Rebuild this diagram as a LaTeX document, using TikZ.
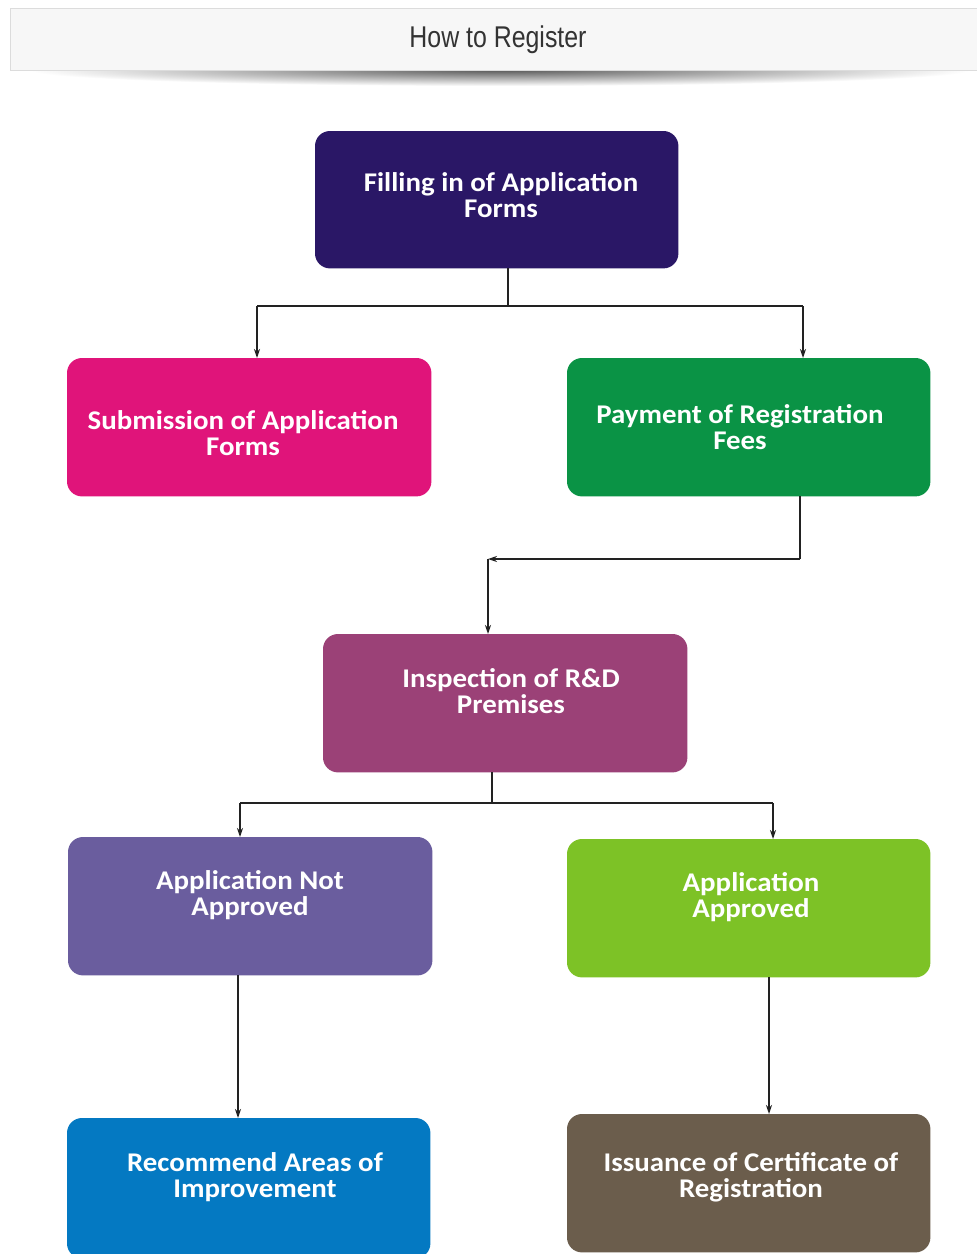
\documentclass[tikz,border=0pt]{standalone}
\usepackage{fontspec}
\setmainfont{Carlito}
\newfontfamily\hdrfont{Liberation Sans}
\usetikzlibrary{arrows.meta}
\definecolor{cA}{HTML}{2A1766}
\definecolor{cB}{HTML}{E0147A}
\definecolor{cC}{HTML}{0A9345}
\definecolor{cD}{HTML}{9B4177}
\definecolor{cE}{HTML}{6A5D9E}
\definecolor{cF}{HTML}{7DC226}
\definecolor{cG}{HTML}{0479C2}
\definecolor{cH}{HTML}{6B5D4C}
\definecolor{hdrfill}{HTML}{F7F7F7}
\definecolor{hdrline}{HTML}{DCDCDC}
\definecolor{linecol}{HTML}{222222}
\tikzset{
  box/.style={rounded corners=15pt, draw=none},
  boxnode/.style={anchor=north west, inner sep=0pt, minimum height=138pt},
  boxtext/.style={text=white, font=\fontsize{27}{26}\selectfont\bfseries, align=center, inner sep=0pt, xscale=1.07},
  conn/.style={draw=linecol, line width=1.6pt},
  arr/.style={conn, -{Stealth[length=9pt,width=6pt]}},
}
\begin{document}
\begin{tikzpicture}[x=1pt,y=-1pt]
\useasboundingbox (0,0) rectangle (977,1254);
\fill[white] (0,0) rectangle (977,1254);
% header shadow
\begin{scope}
\clip (0,70) rectangle (977,110);
\shade[inner color=black!65, outer color=white] (500,70) ellipse (470pt and 16pt);
\end{scope}
\node[draw=hdrline, fill=hdrfill, minimum width=975pt, minimum height=62pt, anchor=north west, inner sep=0pt, line width=1pt] (hdr) at (10,8) {};
\node[font=\hdrfont\fontsize{30}{30}\selectfont, text=black!80, xscale=0.83] (hdrtext) at (498,40) {How to Register};

% boxes
\node[boxnode, minimum width=363pt, minimum height=137pt] (n1) at (315,131) {};
\node[boxnode, minimum width=364pt] (n2) at (67,358) {};
\node[boxnode, minimum width=363pt] (n3) at (567,358) {};
\node[boxnode, minimum width=364pt] (n4) at (323,634) {};
\node[boxnode, minimum width=364pt] (n5) at (68,837) {};
\node[boxnode, minimum width=363pt] (n6) at (567,839) {};
\node[boxnode, minimum width=363pt, minimum height=140pt] (n7) at (67,1118) {};
\node[boxnode, minimum width=363pt] (n8) at (567,1114) {};
\fill[box, fill=cA] (n1.north west) rectangle (n1.south east);
\fill[box, fill=cB] (n2.north west) rectangle (n2.south east);
\fill[box, fill=cC] (n3.north west) rectangle (n3.south east);
\fill[box, fill=cD] (n4.north west) rectangle (n4.south east);
\fill[box, fill=cE] (n5.north west) rectangle (n5.south east);
\fill[box, fill=cF] (n6.north west) rectangle (n6.south east);
\fill[box, fill=cG] (n7.north west) rectangle (n7.south east);
\fill[box, fill=cH] (n8.north west) rectangle (n8.south east);

% texts
\node[boxtext] (t1) at (501,195) {Filling in of Application\\Forms};
\node[boxtext] (t2) at (243,433) {Submission of Application\\Forms};
\node[boxtext] (t3) at (740,427) {Payment of Registration\\Fees};
\node[boxtext] (t4) at (511,691) {Inspection of R\&D\\Premises};
\node[boxtext] (t5) at (250,895) {Application Not\\Approved};
\node[boxtext] (t6) at (751,897) {Application\\Approved};
\node[boxtext] (t7) at (255,1177) {Recommend Areas of\\Improvement};
\node[boxtext] (t8) at (751,1177) {Issuance of Certificate of\\Registration};

% connectors
\coordinate (j1) at (508,306);
\coordinate (j1l) at (257,306);
\coordinate (j1r) at (803,306);
\draw[conn] (n1.south -| j1) -- (j1);
\draw[conn] (j1l) -- (j1r);
\draw[arr] (j1l) -- (j1l |- n2.north);
\draw[arr] (j1r) -- (j1r |- n3.north);

\coordinate (j2r) at (800,559);
\coordinate (j2l) at (488,559);
\draw[conn] (n3.south -| j2r) -- (j2r);
\draw[arr] (j2r) -- (j2l);
\draw[arr] (j2l) -- (j2l |- n4.north);

\coordinate (j3) at (492,803);
\coordinate (j3l) at (240,803);
\coordinate (j3r) at (773,803);
\draw[conn] (n4.south -| j3) -- (j3);
\draw[conn] (j3l) -- (j3r);
\draw[arr] (j3l) -- (j3l |- n5.north);
\draw[arr] (j3r) -- (j3r |- n6.north);

\coordinate (c5) at (238,975);
\draw[arr] (n5.south -| c5) -- (c5 |- n7.north);
\coordinate (c6) at (769,977);
\draw[arr] (n6.south -| c6) -- (c6 |- n8.north);
\end{tikzpicture}
\end{document}
